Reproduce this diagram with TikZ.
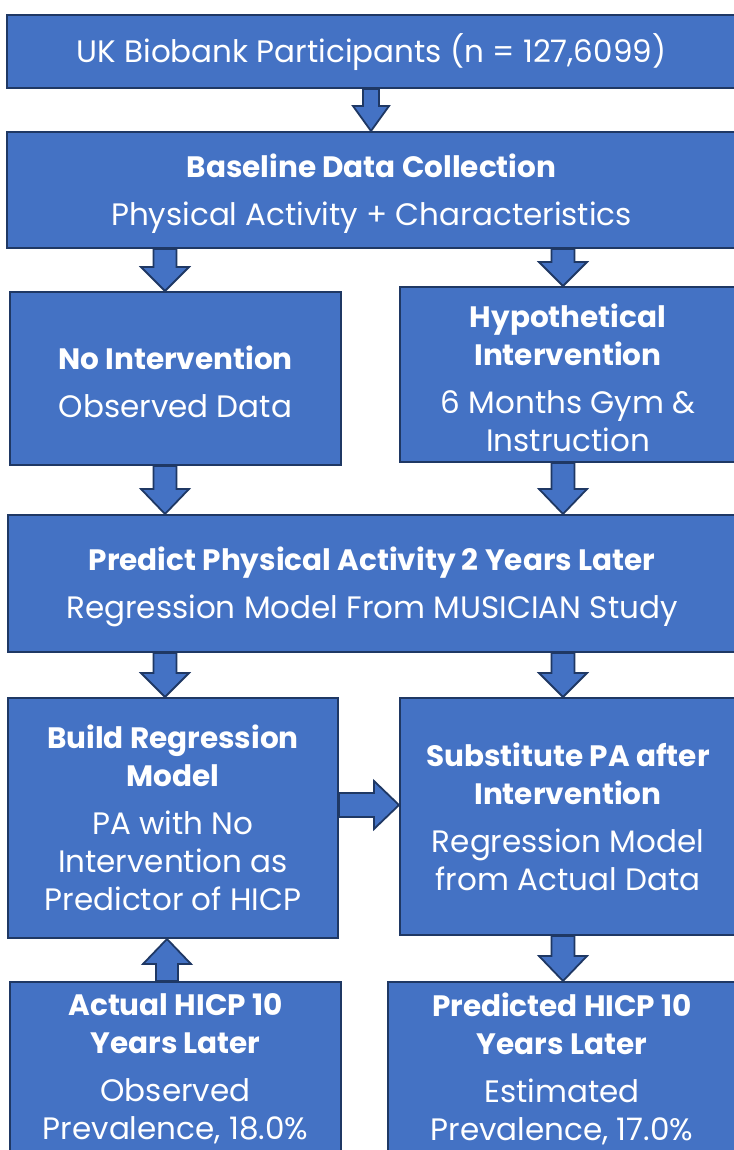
\documentclass[tikz,border=0pt]{standalone}
\usepackage{fontspec}
\setmainfont{Poppins}
\usetikzlibrary{calc}
\definecolor{boxblue}{HTML}{4472C4}
\definecolor{edgeblue}{HTML}{1F3864}

% vertical block arrow: #1 base point, #2 tip, #3 shaft half width,
% #4 head half width, #5 signed offset from tip to the head base
\newcommand{\vblock}[5]{%
  \draw[blk] ($(#1)+(-#3,0)$) -- ($(#2)+(-#3,#5)$) -- ($(#2)+(-#4,#5)$) -- (#2)
    -- ($(#2)+(#4,#5)$) -- ($(#2)+(#3,#5)$) -- ($(#1)+(#3,0)$) -- cycle;}
% horizontal block arrow pointing right
\newcommand{\hblock}[5]{%
  \draw[blk] ($(#1)+(0,-#3)$) -- ($(#2)+(-#5,-#3)$) -- ($(#2)+(-#5,-#4)$) -- (#2)
    -- ($(#2)+(-#5,#4)$) -- ($(#2)+(-#5,#3)$) -- ($(#1)+(0,#3)$) -- cycle;}
% heading lines in a slightly smaller bold size
\newcommand{\hd}[1]{{\fontsize{29.5}{38}\selectfont\bfseries #1}}
% top strut that lowers the text block a little inside its box
\newcommand{\tp}{\rule{0pt}{31pt}}

\begin{document}
\begin{tikzpicture}[x=1pt,y=-1pt,
  box/.style={draw=edgeblue, fill=boxblue, line width=2pt, text=white,
    align=center, inner sep=0pt,
    font=\fontsize{31}{38}\selectfont},
  blk/.style={draw=edgeblue, fill=boxblue, line width=1.8pt, line join=miter},
]
\fill[white] (0,0) rectangle (733,1150);
\useasboundingbox (0,0) rectangle (733,1150);

% boxes
\node[box, minimum width=729pt, minimum height=73pt] (b1) at (371.5,51.5)
  {\tp UK Biobank Participants (n = 127,6099)};
\node[box, minimum width=729pt, minimum height=116pt] (b2) at (371.5,190)
  {\tp\hd{Baseline Data Collection}\\[10pt]Physical Activity + Characteristics};
\node[box, minimum width=331pt, minimum height=173pt] (b3l) at (175.5,378.5)
  {\tp\hd{No Intervention}\\[10pt]Observed Data};
\node[box, minimum width=336pt, minimum height=175pt] (b3r) at (568,374.5)
  {\tp\hd{Hypothetical}\\\hd{Intervention}\\[10pt]6 Months Gym \&\\Instruction};
\node[box, minimum width=728pt, minimum height=137pt] (b4) at (372,583.5)
  {\tp\hd{Predict Physical Activity 2 Years Later}\\[10pt]Regression Model From MUSICIAN Study};
\node[box, minimum width=330pt, minimum height=240pt] (b5l) at (173,818)
  {\hd{Build Regression}\\\hd{Model}\\[10pt]PA with No\\Intervention as\\Predictor of HICP};
\node[box, minimum width=336pt, minimum height=237pt] (b5r) at (568,816.5)
  {\hd{Substitute PA after}\\\hd{Intervention}\\[10pt]Regression Model\\from Actual Data};
\node[box, minimum width=331pt, minimum height=174pt] (b6l) at (175.5,1069)
  {\hd{Actual HICP 10}\\\hd{Years Later}\\[10pt]Observed\\Prevalence, 18.0\%};
\node[box, minimum width=348pt, minimum height=174pt] (b6r) at (562,1069)
  {\hd{Predicted HICP 10}\\\hd{Years Later}\\[10pt]Estimated\\Prevalence, 17.0\%};

% arrow columns
\coordinate (mx) at (371,0);
\coordinate (lx) at (165,0);
\coordinate (rx) at (563,0);
\coordinate (ux) at (167,0);

\coordinate (a1b) at (mx |- b1.south);  \coordinate (a1t) at (mx |- b2.north);
\coordinate (a2b) at (lx |- b2.south);  \coordinate (a2t) at (lx |- b3l.north);
\coordinate (a3b) at (rx |- b2.south);  \coordinate (a3t) at (rx |- b3r.north);
\coordinate (a4b) at (lx |- b3l.south); \coordinate (a4t) at (lx |- b4.north);
\coordinate (a5b) at (rx |- b3r.south); \coordinate (a5t) at (rx |- b4.north);
\coordinate (a6b) at (lx |- b4.south);  \coordinate (a6t) at (lx |- b5l.north);
\coordinate (a7b) at (rx |- b4.south);  \coordinate (a7t) at (rx |- b5r.north);
\coordinate (a8b) at (ux |- b6l.north); \coordinate (a8t) at (ux |- b5l.south);
\coordinate (a9b) at (rx |- b5r.south); \coordinate (a9t) at (rx |- b6r.north);
\coordinate (ahy) at (0,805);
\coordinate (ahb) at (b5l.east |- ahy); \coordinate (aht) at (b5r.west |- ahy);

\vblock{a1b}{a1t}{8}{18}{-25}
\vblock{a2b}{a2t}{11.5}{24}{-24}
\vblock{a3b}{a3t}{11.5}{24}{-24}
\vblock{a4b}{a4t}{11.5}{24}{-25}
\vblock{a5b}{a5t}{11.5}{24}{-25}
\vblock{a6b}{a6t}{11.5}{24}{-24}
\vblock{a7b}{a7t}{11.5}{24}{-24}
\vblock{a8b}{a8t}{11}{24}{25}
\vblock{a9b}{a9t}{11.5}{24}{-25}
\hblock{ahb}{aht}{12}{24}{25}
\end{tikzpicture}
\end{document}
